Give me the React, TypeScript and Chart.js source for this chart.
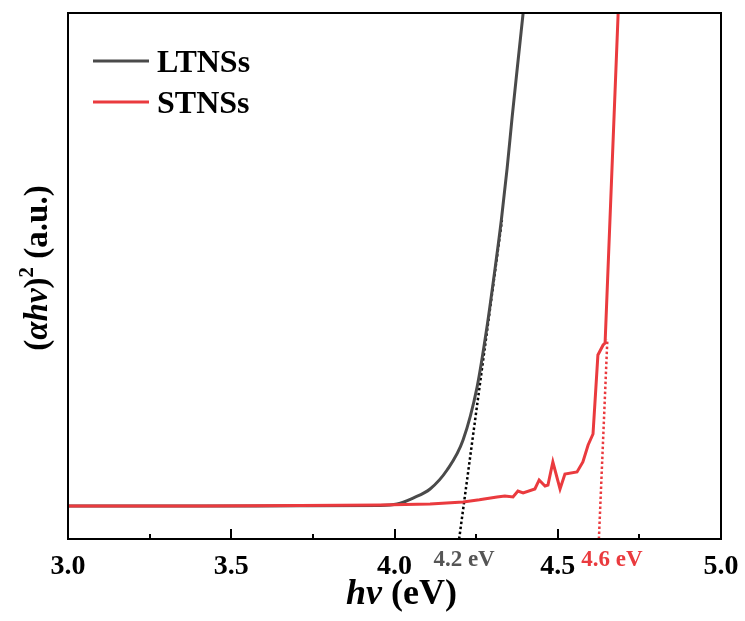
import React, { useEffect, useRef } from "react";
import { Chart, registerables } from "chart.js";

Chart.register(...registerables);

// ---- data ----
const seriesNames = ["LTNSs", "STNSs"];
const ltnsX = [3.0, 3.4, 3.711, 3.956, 4.008, 4.057, 4.109, 4.161, 4.21, 4.253, 4.283, 4.306, 4.327, 4.345, 4.36, 4.376, 4.394];
const ltnsY = [6.27, 6.27, 6.3, 6.37, 6.65, 7.79, 9.51, 13.12, 18.82, 28.9, 40.2, 50.5, 60.5, 70.5, 80, 89.5, 100];
const stnsX = [3.0, 3.404, 3.711, 3.956, 4.109, 4.21, 4.26, 4.314, 4.338, 4.363, 4.378, 4.394, 4.43, 4.443, 4.461, 4.47, 4.485, 4.507, 4.522, 4.559, 4.577, 4.593, 4.608, 4.623, 4.639, 4.645, 4.685];
const stnsY = [6.27, 6.27, 6.37, 6.46, 6.65, 7.03, 7.45, 7.98, 8.17, 7.98, 9.13, 8.75, 9.51, 11.22, 10.08, 10.27, 14.64, 9.51, 12.36, 12.74, 14.64, 17.87, 19.96, 34.98, 36.88, 37.26, 100];
const ltnsFitX = [4.198, 4.329];
const ltnsFitY = [0, 60.6];
const stnsFitX = [4.626, 4.652];
const stnsFitY = [0, 38];
const majorTicks = [3.0, 3.5, 4.0, 4.5, 5.0];
const minorTicks = [3.25, 3.75, 4.25, 4.75];
const gapLabels = ["4.2 eV", "4.6 eV"];
const gapLabelX = [4.213, 4.666];

const GRAY = "#4a4a4a";
const RED = "#ea3a3e";
const FONT = "'Liberation Serif', 'Times New Roman', serif";

const toPts = (xs: number[], ys: number[]) => xs.map((x, i) => ({ x, y: ys[i] }));

const decorPlugin = {
  id: "decor",
  afterDraw(chart: any) {
    const { ctx, chartArea: a, scales } = chart;
    const xs = scales.x;
    ctx.save();
    // frame
    ctx.strokeStyle = "#000";
    ctx.lineWidth = 2;
    ctx.strokeRect(a.left, a.top, a.right - a.left, a.bottom - a.top);
    // inward ticks
    ctx.beginPath();
    majorTicks.forEach((v) => {
      const px = Math.round(xs.getPixelForValue(v));
      ctx.moveTo(px, a.bottom);
      ctx.lineTo(px, a.bottom - 10);
    });
    minorTicks.forEach((v) => {
      const px = Math.round(xs.getPixelForValue(v));
      ctx.moveTo(px, a.bottom);
      ctx.lineTo(px, a.bottom - 5);
    });
    ctx.stroke();

    // legend
    const colors = [GRAY, RED];
    seriesNames.forEach((name, i) => {
      const y = a.top + 48 + i * 41;
      ctx.strokeStyle = colors[i];
      ctx.lineWidth = 3;
      ctx.beginPath();
      ctx.moveTo(a.left + 25, y);
      ctx.lineTo(a.left + 81, y);
      ctx.stroke();
      ctx.fillStyle = "#000";
      ctx.font = `bold 32px ${FONT}`;
      ctx.textAlign = "left";
      ctx.textBaseline = "alphabetic";
      ctx.fillText(name, a.left + 89, y + 11);
    });

    // gap labels
    const labelColors = ["#555555", RED];
    gapLabels.forEach((t, i) => {
      ctx.fillStyle = labelColors[i];
      ctx.font = `bold 23px ${FONT}`;
      ctx.textAlign = "center";
      ctx.textBaseline = "alphabetic";
      ctx.fillText(t, xs.getPixelForValue(gapLabelX[i]), a.bottom + 27);
    });

    const drawSegs = (segs: { t: string; f: string; dy?: number }[], cx: number, cy: number) => {
      let total = 0;
      segs.forEach((s) => {
        ctx.font = s.f;
        total += ctx.measureText(s.t).width;
      });
      let x = cx - total / 2;
      ctx.textAlign = "left";
      ctx.textBaseline = "alphabetic";
      segs.forEach((s) => {
        ctx.font = s.f;
        ctx.fillText(s.t, x, cy + (s.dy || 0));
        x += ctx.measureText(s.t).width;
      });
    };
    // x title
    ctx.fillStyle = "#000";
    drawSegs(
      [
        { t: "hv", f: `italic bold 36px ${FONT}` },
        { t: " (eV)", f: `bold 36px ${FONT}` },
      ],
      (a.left + a.right) / 2 + 7,
      604
    );

    // y title
    ctx.save();
    ctx.translate(47, (a.top + a.bottom) / 2 - 8);
    ctx.rotate(-Math.PI / 2);
    drawSegs(
      [
        { t: "(", f: `bold 33px ${FONT}` },
        { t: "\u03b1hv", f: `italic bold 33px ${FONT}` },
        { t: ")", f: `bold 33px ${FONT}` },
        { t: "2", f: `bold 21px ${FONT}`, dy: -14 },
        { t: " (a.u.)", f: `bold 33px ${FONT}` },
      ],
      0,
      0
    );
    ctx.restore();
    ctx.restore();
  },
};

export default function App() {
  const ref = useRef<HTMLCanvasElement | null>(null);
  useEffect(() => {
    if (!ref.current) return;
    const chart = new Chart(ref.current, {
      type: "line",
      data: {
        datasets: [
          {
            label: seriesNames[0],
            data: toPts(ltnsX, ltnsY),
            borderColor: GRAY,
            borderWidth: 3,
            pointRadius: 0,
            cubicInterpolationMode: "monotone",
            order: 2,
          },
          {
            label: seriesNames[1],
            data: toPts(stnsX, stnsY),
            borderColor: RED,
            borderWidth: 3,
            pointRadius: 0,
            tension: 0,
            order: 1,
          },
          {
            label: "fit1",
            data: toPts(ltnsFitX, ltnsFitY),
            borderColor: "#000",
            borderWidth: 2.5,
            borderDash: [2.5, 2.5],
            pointRadius: 0,
            order: 3,
          },
          {
            label: "fit2",
            data: toPts(stnsFitX, stnsFitY),
            borderColor: RED,
            borderWidth: 2.5,
            borderDash: [2.5, 2.5],
            pointRadius: 0,
            order: 4,
          },
        ],
      },
      options: {
        animation: false,
        responsive: false,
        devicePixelRatio: 1,
        layout: { padding: { left: 68, right: 24, top: 13, bottom: 0 } },
        plugins: { legend: { display: false }, tooltip: { enabled: false } },
        scales: {
          x: {
            type: "linear",
            min: 3,
            max: 5,
            grid: { display: false, drawTicks: false },
            border: { display: false },
            ticks: {
              stepSize: 0.5,
              padding: 11,
              color: "#000",
              font: { family: FONT, size: 28, weight: "bold" },
              callback: (v: any) => Number(v).toFixed(1),
            },
            afterFit: (s: any) => {
              s.height = 82;
              s.paddingLeft = 0;
              s.paddingRight = 0;
            },
          },
          y: {
            type: "linear",
            min: 0,
            max: 100,
            display: false,
          },
        },
      },
      plugins: [decorPlugin],
    } as any);
    return () => chart.destroy();
  }, []);
  return (
    <div style={{ position: "absolute", left: 0, top: 0, width: 745, height: 621, background: "#fff" }}>
      <canvas ref={ref} width={745} height={621} />
    </div>
  );
}
